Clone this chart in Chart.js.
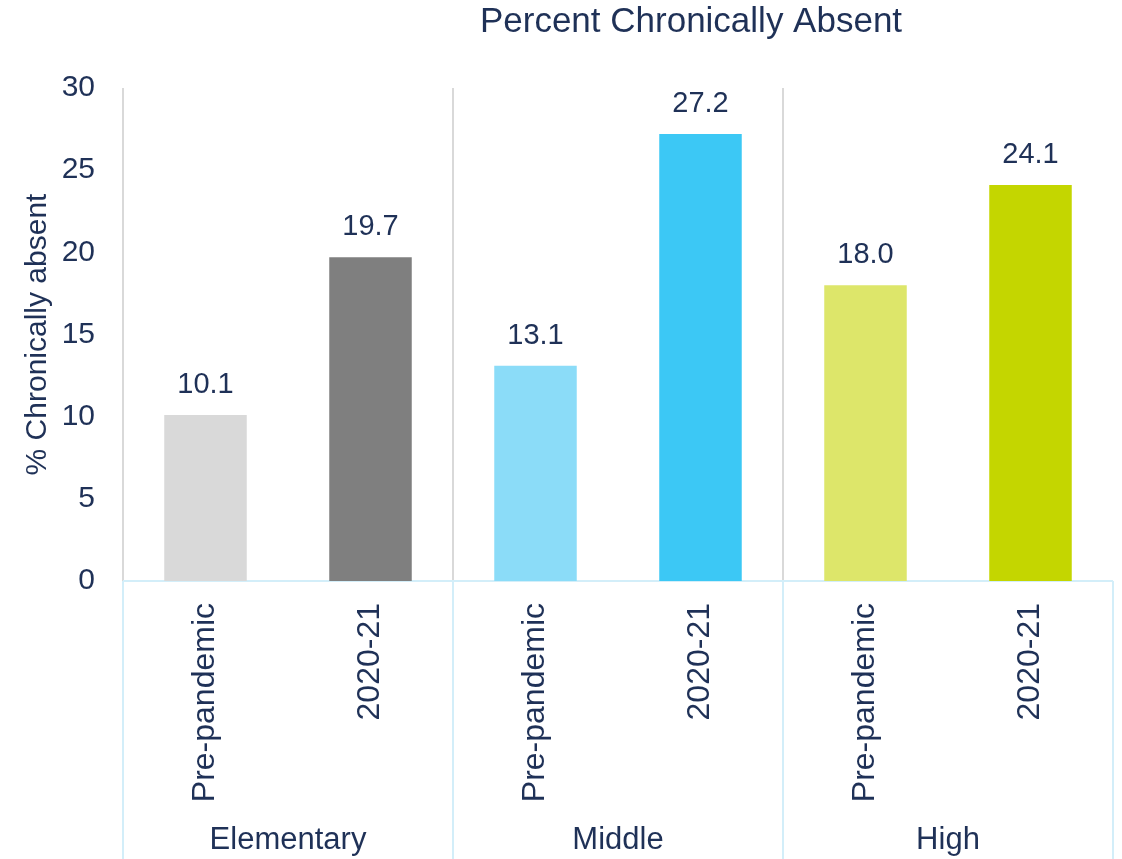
<!DOCTYPE html>
<html>
<head>
<meta charset="utf-8">
<title>Percent Chronically Absent</title>
<script src="https://cdn.jsdelivr.net/npm/chart.js@4.4.1/dist/chart.umd.min.js"></script>
<style>
  html, body { margin: 0; padding: 0; background: #ffffff; }
  #wrap { width: 1122px; height: 859px; position: relative; }
</style>
</head>
<body>
<div id="wrap"><canvas id="absentChart"></canvas></div>
<script>
// chart data
const schoolLevels = ['Elementary', 'Middle', 'High'];
const periods = ['Pre-pandemic', '2020-21'];
const barLabels = ['Pre-pandemic', '2020-21', 'Pre-pandemic', '2020-21', 'Pre-pandemic', '2020-21'];
const absentPct = [10.1, 19.7, 13.1, 27.2, 18.0, 24.1];
const barColors = ['#d9d9d9', '#7f7f7f', '#8bdcf8', '#3cc8f5', '#dde66a', '#c4d600'];
const yTickValues = [0, 5, 10, 15, 20, 25, 30];

const TEXT = '#1f3157';
const FONT = '"Liberation Sans", Arial, sans-serif';

//DRAW TITLE, SEPARATORS, DATA LABELS AND GROUP LABELS
const decorPlugin = {
  id: 'decor',
  beforeDatasetsDraw(chart) {
    const { ctx, chartArea, scales } = chart;
    const x = scales.x;
    const slot = x.getPixelForValue(1) - x.getPixelForValue(0);
    const h = chart.height;

    ctx.save();
    // gray separators inside the plot
    ctx.strokeStyle = '#d9d9d9';
    ctx.lineWidth = 2;
    for (let g = 0; g < schoolLevels.length; g++) {
      const px = Math.round(x.getPixelForValue(g * periods.length) - slot / 2);
      ctx.beginPath();
      ctx.moveTo(px, chartArea.top);
      ctx.lineTo(px, chartArea.bottom);
      ctx.stroke();
    }
    // light blue axis box below the plot
    ctx.strokeStyle = '#d3eef9';
    ctx.beginPath();
    ctx.moveTo(chartArea.left, chartArea.bottom);
    ctx.lineTo(chartArea.right, chartArea.bottom);
    ctx.stroke();
    for (let g = 0; g <= schoolLevels.length; g++) {
      const px = Math.round(x.getPixelForValue(g * periods.length) - slot / 2);
      ctx.beginPath();
      ctx.moveTo(px, chartArea.bottom);
      ctx.lineTo(px, h);
      ctx.stroke();
    }
    ctx.restore();
  },
  afterDraw(chart) {
    const { ctx, scales } = chart;
    const x = scales.x;
    const y = scales.y;

    ctx.save();
    ctx.fillStyle = TEXT;
    ctx.textAlign = 'center';
    ctx.textBaseline = 'middle';

    // title
    ctx.font = '35px ' + FONT;
    ctx.fillText('Percent Chronically Absent', 691, 22);

    // value labels
    ctx.font = '29px ' + FONT;
    absentPct.forEach((v, i) => {
      ctx.fillText(v.toFixed(1), x.getPixelForValue(i), y.getPixelForValue(v) - 30);
    });

    // group labels
    ctx.font = '31px ' + FONT;
    schoolLevels.forEach((lvl, g) => {
      const a = x.getPixelForValue(g * periods.length);
      const b = x.getPixelForValue(g * periods.length + periods.length - 1);
      ctx.fillText(lvl, (a + b) / 2, 840);
    });
    ctx.restore();
  }
};

function buildChart() {
  const canvas = document.getElementById('absentChart');

  let dados = {
    labels: barLabels,
    datasets: [{
      label: '% Chronically absent',
      data: absentPct,
      backgroundColor: barColors,
      borderWidth: 0,
      categoryPercentage: 1,
      barPercentage: 0.5
    }]
  };

  let options = {
    responsive: true,
    maintainAspectRatio: false,
    animation: false,
    events: [],
    layout: { padding: { top: 88, right: 9, bottom: 0, left: 0 } },
    plugins: {
      legend: { display: false },
      title: { display: false },
      tooltip: { enabled: false }
    },
    scales: {
      x: {
        offset: true,
        grid: { display: false },
        border: { display: false },
        afterFit(scale) { scale.height = 278; },
        ticks: {
          autoSkip: false,
          minRotation: 90,
          maxRotation: 90,
          padding: 14,
          color: TEXT,
          font: { family: FONT, size: 32 }
        }
      },
      y: {
        min: 0,
        max: 30,
        afterFit(scale) { scale.width = 123; },
        afterBuildTicks(scale) {
          scale.ticks = yTickValues.map(v => ({ value: v }));
        },
        grid: { display: false },
        border: { display: false },
        title: {
          display: true,
          text: '% Chronically absent',
          color: TEXT,
          font: { family: FONT, size: 30 },
          padding: { top: 20, bottom: 0 }
        },
        ticks: {
          padding: 20,
          color: TEXT,
          font: { family: FONT, size: 30 }
        }
      }
    }
  };

  new Chart(canvas, {
    type: 'bar',
    data: dados,
    options: options,
    plugins: [decorPlugin]
  });
}

document.addEventListener('DOMContentLoaded', buildChart);
</script>
</body>
</html>
